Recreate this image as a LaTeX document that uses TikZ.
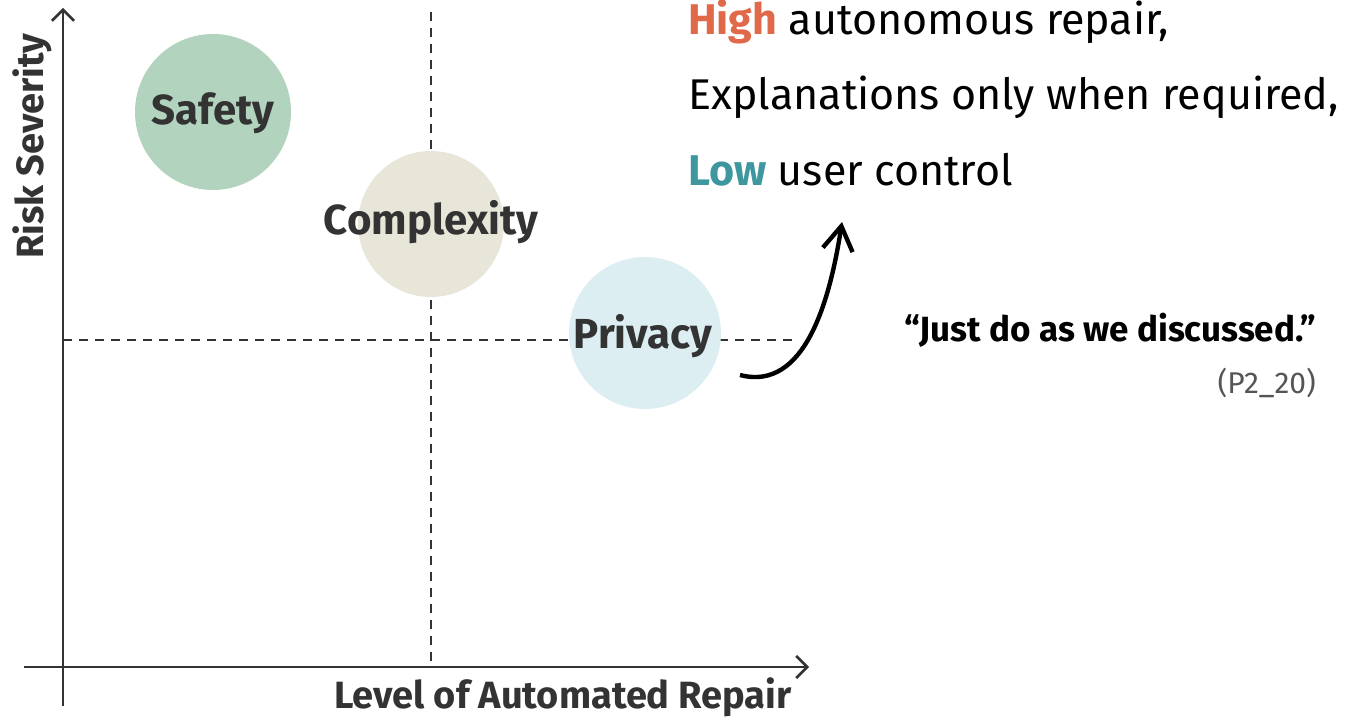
\documentclass[tikz,border=0pt]{standalone}
\usepackage{fontspec}
\setmainfont{Fira Sans}
\usetikzlibrary{arrows.meta}
\definecolor{safetyc}{HTML}{B2D3BE}
\definecolor{complexc}{HTML}{E8E6D8}
\definecolor{privacyc}{HTML}{DCEEF2}
\definecolor{labelc}{HTML}{333333}
\definecolor{highc}{HTML}{E0694A}
\definecolor{lowc}{HTML}{3E969F}
\definecolor{refc}{HTML}{555555}
\tikzset{
  axisline/.style={line width=2.8pt, draw=labelc, -{Straight Barb[length=11pt,width=22pt,line width=2.6pt]}},
  guide/.style={line width=2.3pt, draw=labelc, dash pattern=on 9pt off 7pt},
  bubble/.style={circle, draw=none, inner sep=0pt},
  bubbletext/.style={font=\bfseries\fontsize{42}{46}\selectfont, text=labelc},
  axislabel/.style={font=\bfseries\fontsize{38}{42}\selectfont, text=labelc},
  bodytext/.style={font=\fontsize{43}{50}\selectfont, anchor=west, inner sep=0pt},
  curvearrow/.style={line width=4.4pt, -{Straight Barb[length=24pt,width=30pt,line width=4.4pt]}}
}
\begin{document}
\begin{tikzpicture}[x=1pt,y=-1pt]
\useasboundingbox (0,0) rectangle (1351,719);
% guides
\coordinate (vtop) at (431,12);
\coordinate (vbot) at (431,667);
\coordinate (hleft) at (63,340);
\coordinate (hright) at (795,340);
\draw[guide] (vtop) -- (vbot);
\draw[guide] (hleft) -- (hright);
% axes
\coordinate (ybot) at (63,706);
\coordinate (ytop) at (63,8);
\coordinate (xleft) at (24,667);
\coordinate (xright) at (809,667);
\draw[axisline] (ybot) -- (ytop);
\draw[axisline] (xleft) -- (xright);
% bubbles
\node[bubble, fill=safetyc, minimum size=156pt] (safety) at (213,112) {};
\node[bubble, fill=complexc, minimum size=146pt] (complexity) at (431,224) {};
\node[bubble, fill=privacyc, minimum size=152pt] (privacy) at (645,333) {};
\node[bubbletext] (safetyt) at (213,113) {Safety};
\node[bubbletext] (complexityt) at (431,222) {Complexity};
\node[bubbletext] (privacyt) at (643,336) {Privacy};
% axis labels
\node[axislabel, rotate=90] (ylab) at (32,146) {Risk Severity};
\node[axislabel] (xlab) at (563,697) {Level of Automated Repair};
% curved arrow
\coordinate (cstart) at (740,375);
\coordinate (cend) at (842,222);
\draw[curvearrow] (cstart) .. controls (805,392) and (830,300) .. (cend);
% text block
\node[bodytext] (l1) at (688,22) {\textbf{\textcolor{highc}{High}} autonomous repair,};
\node[bodytext] (l2) at (688,97) {Explanations only when required,};
\node[bodytext] (l3) at (688,170) {\textbf{\textcolor{lowc}{Low}} user control};
% quote
\node[font=\bfseries\fontsize{35}{40}\selectfont, anchor=east, inner sep=0pt] (quote) at (1316,330) {“Just do as we discussed.”};
\node[font=\fontsize{30}{34}\selectfont, anchor=east, inner sep=0pt, text=refc] (ref) at (1316,383) {(P2\_20)};
\end{tikzpicture}
\end{document}
